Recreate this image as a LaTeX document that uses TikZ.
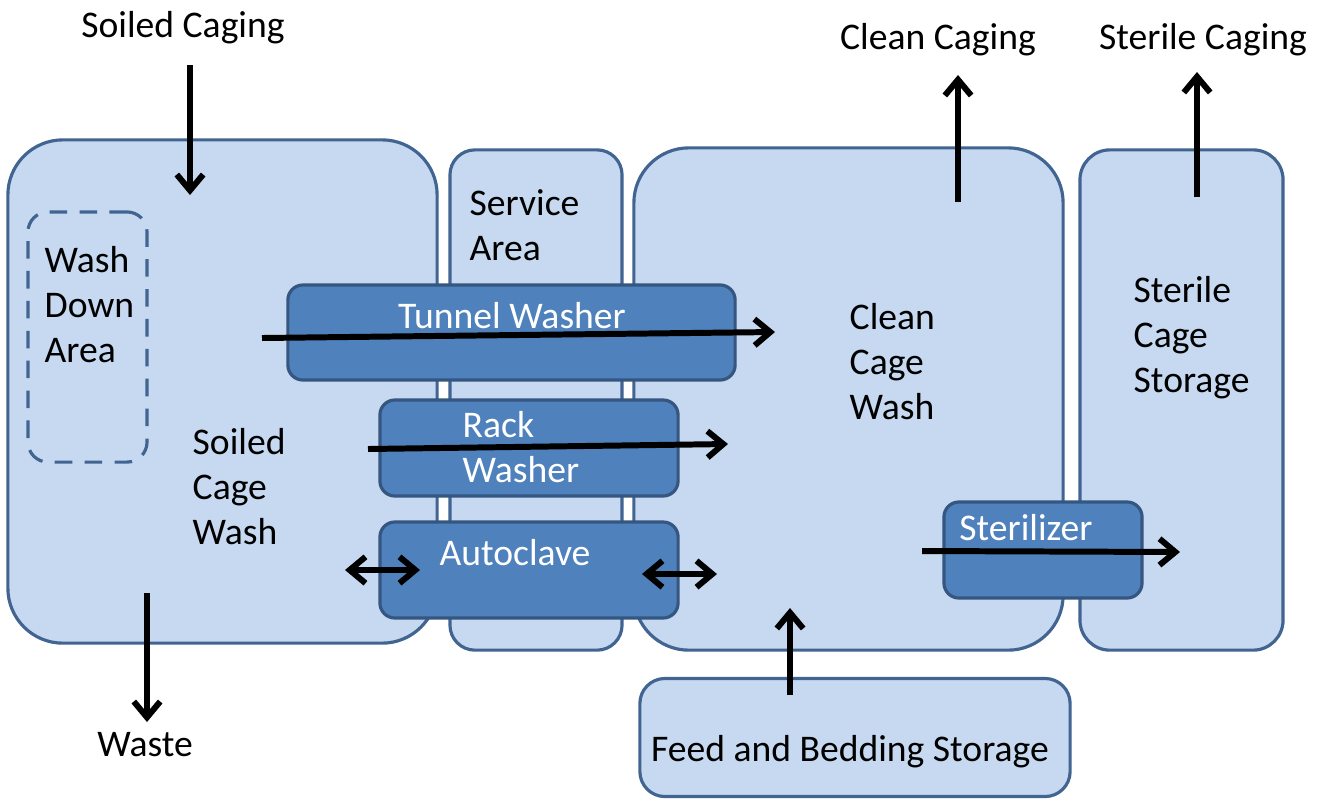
\documentclass[tikz,border=0pt]{standalone}
\usepackage{fontspec}
\setmainfont{Carlito}
\usetikzlibrary{arrows.meta}

\definecolor{roomfill}{RGB}{198,217,240}
\definecolor{roomline}{RGB}{65,100,145}
\definecolor{unitfill}{RGB}{79,129,189}
\definecolor{unitline}{RGB}{52,86,128}

\tikzset{
  room/.style={draw=roomline, fill=roomfill, line width=0.9pt, inner sep=0pt},
  unit/.style={draw=unitline, fill=unitfill, line width=0.9pt, inner sep=0pt, rounded corners=0.15cm},
  lbl/.style={font=\fontsize{10.7}{12.8}\selectfont, inner sep=0pt, align=left},
  unitlbl/.style={lbl, text=white},
  flow/.style={line width=1.7pt, -{Straight Barb[length=4.5pt,width=7.5pt]}},
  twoway/.style={line width=1.7pt, {Straight Barb[length=4.5pt,width=7.5pt]}-{Straight Barb[length=4.5pt,width=7.5pt]}}
}

\begin{document}
\begin{tikzpicture}[x=0.01cm,y=-0.01cm]
\useasboundingbox (0,0) rectangle (1318,799);

% rooms
\node[room, rounded corners=0.55cm, minimum width=4.29cm, minimum height=5.03cm] (soiled) at (222.5,391.5) {};
\node[room, rounded corners=0.25cm, minimum width=1.72cm, minimum height=5.0cm] (service) at (536,400) {};
\node[room, rounded corners=0.55cm, minimum width=4.29cm, minimum height=5.02cm] (clean) at (848.5,399) {};
\node[room, rounded corners=0.3cm, minimum width=2.03cm, minimum height=5.0cm] (sterile) at (1181.5,400) {};
\node[room, rounded corners=0.25cm, minimum width=4.30cm, minimum height=1.18cm] (feed) at (855,737.5) {};
\node[room, dashed, dash pattern=on 5pt off 3.5pt, rounded corners=0.2cm, minimum width=1.19cm, minimum height=2.5cm] (washdown) at (87.5,337) {};

% equipment
\node[unit, minimum width=4.47cm, minimum height=0.95cm] (tunnel) at (511.5,332.5) {};
\node[unit, minimum width=2.98cm, minimum height=0.96cm] (rack) at (529,448) {};
\node[unit, minimum width=2.98cm, minimum height=0.96cm] (autoclave) at (529,570) {};
\node[unit, minimum width=1.98cm, minimum height=0.96cm] (sterilizer) at (1043,550) {};

% labels
\node[lbl, anchor=west] (washdownlbl) at (44,305) {Wash\\Down\\Area};
\node[lbl, anchor=west] (soiledlbl) at (192,487) {Soiled\\Cage\\Wash};
\node[lbl, anchor=west] (servicelbl) at (469,225) {Service\\Area};
\node[lbl, anchor=west] (cleanlbl) at (849,362) {Clean\\Cage\\Wash};
\node[lbl, anchor=west] (sterilelbl) at (1133,338) {Sterile\\Cage\\Storage};
\node[lbl] (feedlbl) at (850,752) {Feed and Bedding Storage};
\node[unitlbl] (tunnellbl) at (512,316) {Tunnel Washer};
\node[unitlbl, anchor=west] (racklbl) at (462,447) {Rack\\Washer};
\node[unitlbl] (autoclavelbl) at (515,553) {Autoclave};
\node[unitlbl] (sterilizerlbl) at (1026,528) {Sterilizer};

\node[lbl] (soiledin) at (183,28) {Soiled Caging};
\node[lbl] (waste) at (145,745) {Waste};
\node[lbl] (cleanout) at (938,40) {Clean Caging};
\node[lbl] (sterileout) at (1203,40) {Sterile Caging};

% flow ends
\coordinate (soiledtop) at (190,65);
\coordinate (soiledend) at (190,195);
\coordinate (wastetop) at (147,593);
\coordinate (wasteend) at (147,722);
\coordinate (cleanbot) at (958,202);
\coordinate (cleanend) at (958,75);
\coordinate (sterilebot) at (1197,197);
\coordinate (sterileend) at (1197,72);
\coordinate (tunnelin) at (262,338);
\coordinate (tunnelout) at (775,332);
\coordinate (rackin) at (368,449);
\coordinate (rackout) at (728,444);
\coordinate (acleftA) at (345,570);
\coordinate (acleftB) at (420,570);
\coordinate (acrightA) at (642,574);
\coordinate (acrightB) at (717,574);
\coordinate (sterin) at (922,551);
\coordinate (sterout) at (1180,552);
\coordinate (feedbot) at (790,695);
\coordinate (feedend) at (790,608);

% arrows
\draw[flow] (soiledtop) -- (soiledend);
\draw[flow] (wastetop) -- (wasteend);
\draw[flow] (cleanbot) -- (cleanend);
\draw[flow] (sterilebot) -- (sterileend);
\draw[flow] (tunnelin) -- (tunnelout);
\draw[flow] (rackin) -- (rackout);
\draw[twoway] (acleftA) -- (acleftB);
\draw[twoway] (acrightA) -- (acrightB);
\draw[flow] (sterin) -- (sterout);
\draw[flow] (feedbot) -- (feedend);

\end{tikzpicture}
\end{document}
